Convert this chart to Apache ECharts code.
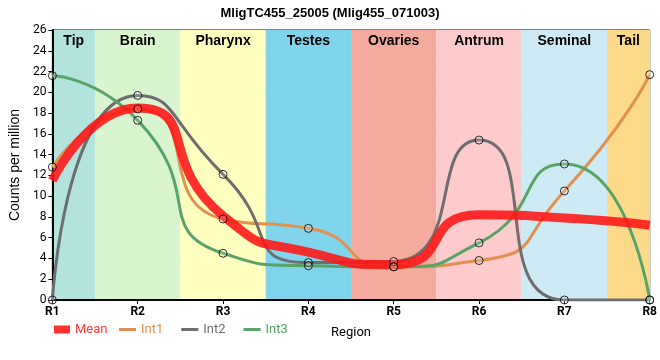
<!DOCTYPE html>
<html><head><meta charset="utf-8">
<script src="https://cdn.jsdelivr.net/npm/echarts@6/dist/echarts.min.js"></script>
<style>html,body{margin:0;padding:0;background:#fff}#c{width:660px;height:360px}</style>
</head><body><div id="c"></div>
<script>
const categories = ['R1','R2','R3','R4','R5','R6','R7','R8'];
const regions = ['Tip','Brain','Pharynx','Testes','Ovaries','Antrum','Seminal','Tail'];
const regionColors = ['#b3e3dd','#d8f5d0','#ffffc0','#80d4eb','#f4ab9d','#fdcbcc','#ceebf5','#fdd98a'];
const yTicks = [0,2,4,6,8,10,12,14,16,18,20,22,24,26];
const int1 = [12.8, 18.4, 7.8, 6.9, 3.2, 3.8, 10.5, 21.7];
const int2 = [0, 19.7, 12.1, 3.6, 3.7, 15.4, 0, 0];
const int3 = [21.6, 17.3, 4.5, 3.3, 3.2, 5.5, 13.1, 0];
const mean = [11.5, 18.5, 8.1, 4.6, 3.4, 8.2, 7.9, 7.2];

const pts = a => a.map((v,i)=>[i,v]);
const bands = regions.map((r,i)=>[
  {name:r, xAxis:Math.max(0,i-0.5), itemStyle:{color:regionColors[i]}},
  {xAxis:Math.min(categories.length-1,i+0.5)}
]);
const chart = echarts.init(document.getElementById('c'));
const lineSeries = (name, data, color, width, z) => ({
  name, type:'line', data:pts(data), smooth:0.65, symbol:'none', z,
  lineStyle:{color, width}, itemStyle:{color}
});
const markers = (data) => ({
  type:'scatter', data:pts(data), symbol:'circle', symbolSize:8, z:6, silent:true,
  itemStyle:{color:'rgba(255,255,255,0.2)', borderColor:'#000', borderWidth:1}
});
const legendText = {fontFamily:'Roboto', fontSize:13};
chart.setOption({
  animation:false,
  title:{text:'MligTC455_25005 (Mlig455_071003)', left:'center', top:2,
    textStyle:{fontFamily:'Liberation Sans', fontWeight:'bold', fontSize:13, color:'#000'}},
  grid:{left:50, right:10, top:30, bottom:60, show:true, borderColor:'#000', borderWidth:1, backgroundColor:'transparent', z:1},
  legend:[
    {left:54, top:323, padding:0, icon:'rect', itemWidth:16, itemHeight:8, itemGap:4, textStyle:legendText,
      data:[{name:'Mean', textStyle:{color:'#ff3a3a'}}]},
    {left:119, top:323, padding:0, icon:'rect', itemWidth:17, itemHeight:3, itemGap:18, textStyle:legendText,
      data:[
        {name:'Int1', textStyle:{color:'#e0914f'}},
        {name:'Int2', textStyle:{color:'#6e6e6e'}},
        {name:'Int3', textStyle:{color:'#5aa368'}}
      ]}
  ],
  xAxis:{type:'value', min:0, max:categories.length-1, interval:1, z:1,
    name:'Region', nameLocation:'middle', nameGap:26,
    nameTextStyle:{fontFamily:'Roboto', fontSize:13, color:'#000'},
    axisLine:{lineStyle:{color:'#000', width:2}},
    axisTick:{show:true, length:4, lineStyle:{color:'#000'}},
    axisLabel:{formatter:v=>categories[v], fontFamily:'Roboto', fontWeight:'bold', fontSize:12, color:'#000', margin:6},
    splitLine:{show:true, lineStyle:{color:'#c8c8c8', width:1}}},
  yAxis:{type:'value', min:yTicks[0], max:yTicks[yTicks.length-1], interval:2, z:1,
    name:'Counts per million', nameLocation:'middle', nameGap:24, nameRotate:90,
    nameTextStyle:{fontFamily:'Liberation Sans', fontSize:14, color:'#000'},
    axisLine:{show:true, lineStyle:{color:'#000', width:2}},
    axisTick:{show:true, length:4, lineStyle:{color:'#000'}},
    axisLabel:{fontFamily:'Roboto', fontSize:12, color:'#000', margin:6},
    splitLine:{show:true, lineStyle:{color:'#c8c8c8', width:1}}},
  series:[
    {type:'line', data:[], z:0, silent:true,
      markArea:{silent:true, label:{position:'insideTop', distance:4, fontFamily:'Liberation Sans', fontWeight:'bold', fontSize:14, color:'#000'},
        data:bands}},
    lineSeries('Int1', int1, '#e0914f', 3, 3),
    lineSeries('Int2', int2, '#6e6e6e', 3, 3),
    lineSeries('Int3', int3, '#5aa368', 3, 3),
    lineSeries('Mean', mean, 'rgba(255,20,20,0.88)', 9, 4),
    markers(int1), markers(int2), markers(int3)
  ]
});
</script></body></html>
